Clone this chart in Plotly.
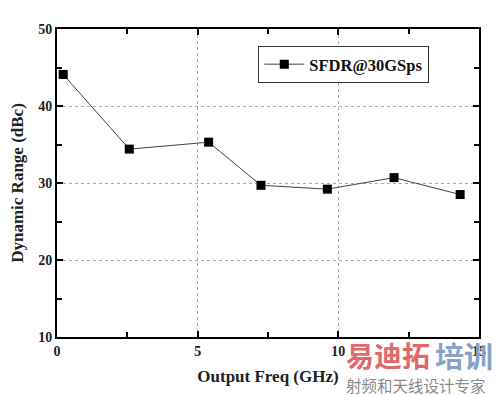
import plotly.graph_objects as go

freq_ghz = [0.22, 2.57, 5.39, 7.25, 9.61, 11.98, 14.33]
sfdr_dbc = [44.1, 34.4, 35.3, 29.7, 29.2, 30.7, 28.5]
series_name = "SFDR@30GSps"
x_title = "Output Freq (GHz)"
y_title = "Dynamic Range (dBc)"
x_ticks = [0, 5, 10, 15]
y_ticks = [10, 20, 30, 40, 50]

serif = "Liberation Serif, Times New Roman, serif"
cjk = "Noto Sans CJK SC"

fig = go.Figure()
fig.add_trace(go.Scatter(
    x=freq_ghz, y=sfdr_dbc, name=series_name, mode="lines+markers",
    line=dict(color="#444444", width=1),
    marker=dict(symbol="square", size=9, color="black"),
))

axis_common = dict(
    showline=True, linecolor="black", linewidth=2, mirror="allticks",
    ticks="inside", ticklen=6, tickwidth=1.5, tickcolor="black",
    showgrid=True, gridcolor="#aaaaaa", gridwidth=1, griddash="dot",
    zeroline=False,
    tickfont=dict(family=serif, size=14, color="#222222", weight="bold"),
)

fig.update_xaxes(
    range=[0, 15], tickvals=x_ticks, ticktext=[str(v) for v in x_ticks],
    minor=dict(dtick=2.5, tick0=0, ticks="inside", ticklen=5, tickcolor="black", showgrid=False),
    title=dict(text=x_title, font=dict(family=serif, size=17, color="#222222", weight="bold"), standoff=12),
    **axis_common,
)
fig.update_yaxes(
    range=[10, 50], tickvals=y_ticks, ticktext=[str(v) for v in y_ticks],
    minor=dict(dtick=5, tick0=0, ticks="inside", ticklen=5, tickcolor="black", showgrid=False),
    title=dict(text=y_title, font=dict(family=serif, size=17, color="#222222", weight="bold"), standoff=10),
    **axis_common,
)

fig.update_layout(
    width=500, height=395,
    margin=dict(l=57, r=21, t=29, b=54),
    plot_bgcolor="white", paper_bgcolor="white",
    showlegend=True,
    legend=dict(
        x=0.477, y=0.945, xanchor="left", yanchor="top",
        bgcolor="white", bordercolor="#333333", borderwidth=1,
        font=dict(family=serif, size=16.5, color="#111111", weight="bold"),
        itemwidth=40, tracegroupgap=0,
    ),
)

# watermark
fig.add_annotation(text="<b>易迪拓</b>", x=(345 - 57) / 422, y=(341 - 338) / 312,
                   xref="paper", yref="paper", xanchor="left", yanchor="top",
                   showarrow=False, borderpad=0, font=dict(family=cjk, size=28, color="#e06a6a"))
fig.add_annotation(text="<b>培训</b>", x=(434 - 57) / 422, y=(341 - 337) / 312,
                   xref="paper", yref="paper", xanchor="left", yanchor="top",
                   showarrow=False, borderpad=0, font=dict(family=cjk, size=29, color="#86a2c8"))
fig.add_annotation(text="射频和天线设计专家", x=(345 - 57) / 422, y=(341 - 377) / 312,
                   xref="paper", yref="paper", xanchor="left", yanchor="top",
                   showarrow=False, borderpad=0, font=dict(family=cjk, size=15.5, color="#8a8a8a"))

fig.write_html("out.html")
